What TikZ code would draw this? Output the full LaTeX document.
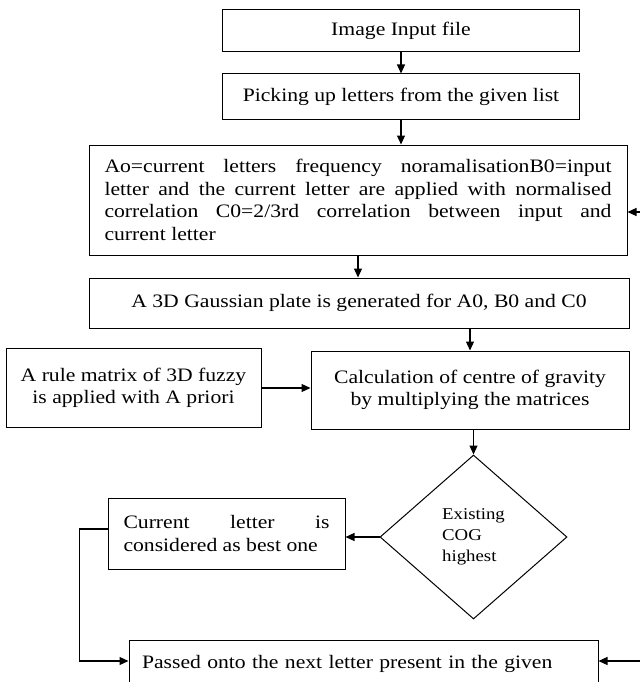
\documentclass[tikz,border=0pt]{standalone}
\usepackage{fontspec}
\setmainfont{Liberation Serif}[FakeStretch=1.14]
\usetikzlibrary{shapes.geometric,arrows.meta}
\newcommand\boxfont{\fontsize{19}{22.5}\selectfont}
\newcommand\decfont{\fontsize{16.5}{21}\selectfont}
\tikzset{
  box/.style={draw, line width=1pt, inner sep=0pt, align=center, font=\boxfont},
  decision/.style={draw, diamond, line width=1pt, inner sep=0pt, align=left, font=\decfont},
  arr/.style={line width=1.2pt, -{Triangle[length=9pt,width=8pt]}},
}
\begin{document}
\begin{tikzpicture}[x=1pt,y=-1pt]
\clip (0,0) rectangle (640,682);

% process boxes
\node[box, minimum width=357pt, minimum height=42pt] (b1) at (401,30.5) {Image Input file};
\node[box, minimum width=357pt, minimum height=46pt] (b2) at (401,97) {Picking up letters from the given list};
\node[box, minimum width=538pt, minimum height=110pt, text width=507pt, align=justify] (b3) at (358,200)
  {Ao=current letters frequency noramalisationB0=input\linebreak
   letter and the current letter are applied with normalised\linebreak
   correlation C0=2/3rd correlation between input and\linebreak
   current letter};
\node[box, minimum width=540pt, minimum height=50pt] (b4) at (359,303) {A 3D Gaussian plate is generated for A0, B0 and C0};
\node[box, minimum width=255pt, minimum height=79pt] (b5) at (133.5,388) {A rule matrix of 3D fuzzy\\is applied with A priori};
\node[box, minimum width=318pt, minimum height=78pt] (b6) at (470,390) {Calculation of centre of gravity\\by multiplying the matrices};

% decision
\node[decision, minimum width=187pt, minimum height=164pt] (dia) at (473.5,537) {Existing\\COG\\highest};

\node[box, minimum width=237pt, minimum height=71pt, text width=206pt, align=justify] (b7) at (226.5,533.5)
  {Current letter is\linebreak considered as best one};

\node[box, anchor=north west, text width=443pt, align=left, inner xsep=13pt, inner ysep=0pt,
      text height=28pt, text depth=60pt] (b8) at (128.5,640)
  {Passed onto the next letter present in the given};

% free ends of the incoming connectors
\coordinate (r3) at (640,212);
\coordinate (r8) at (640,661);
\coordinate (in8) at ([yshift=-21pt]b8.north west);

% connectors
\draw[arr] (b1) -- (b2);
\draw[arr] (b2.south) -- (b2.south |- b3.north);
\draw[arr] (b3.south) -- (b3.south |- b4.north);
\draw[arr] (b4.south -| b6.north) -- (b6.north);
\draw[arr] (b5.east) -- (b5.east -| b6.west);
\draw[arr] (b6.south -| dia.north) -- (dia.north);
\draw[arr] (dia.west) -- (dia.west -| b7.east);
\draw[arr] ([yshift=4.5pt]b7.west) -- ++(-28,0) |- (in8);
\draw[arr] (r3) -- (r3 -| b3.east);
\draw[arr] (r8) -- (r8 -| b8.east);
\end{tikzpicture}
\end{document}
